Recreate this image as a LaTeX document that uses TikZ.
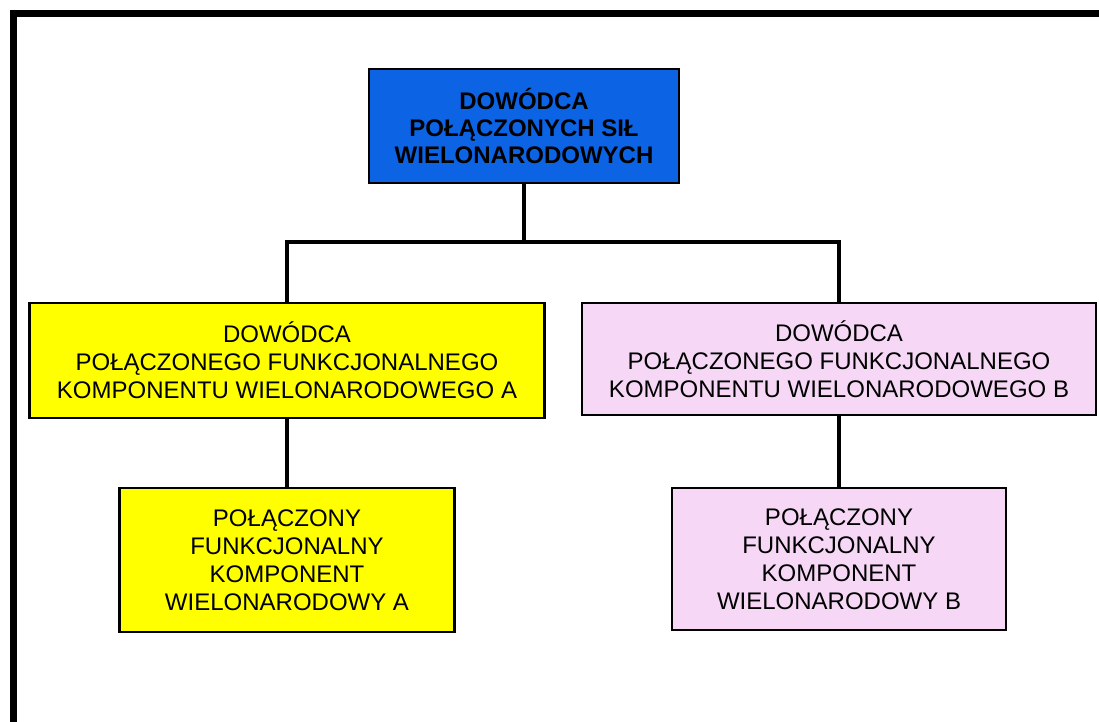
\documentclass[tikz,border=0pt]{standalone}
\usepackage{fontspec}
\setmainfont{Liberation Sans}
\definecolor{topblue}{RGB}{12,100,228}
\definecolor{boxyellow}{RGB}{255,255,0}
\definecolor{boxpink}{RGB}{246,216,246}
\tikzset{
  orgbox/.style={draw=black, line width=2.8pt, align=center, inner sep=0pt,
    font=\fontsize{24}{28}\selectfont},
  link/.style={draw=black, line width=3.5pt},
}
\begin{document}
\begin{tikzpicture}[x=1pt,y=-1pt]
\useasboundingbox (0,0) rectangle (1099,721);
\draw[line width=7pt] (13.5,13.5) rectangle (1120,740);
\node[orgbox, fill=topblue, minimum width=310pt, minimum height=114pt,
  font=\fontsize{24}{27}\selectfont\bfseries] (top) at (524,126)
  {DOWÓDCA\\POŁĄCZONYCH SIŁ\\WIELONARODOWYCH};
\node[orgbox, fill=boxyellow, minimum width=515pt, minimum height=115pt] (a1) at (287,360.5)
  {DOWÓDCA\\POŁĄCZONEGO FUNKCJONALNEGO\\KOMPONENTU WIELONARODOWEGO A};
\node[orgbox, fill=boxpink, minimum width=514pt, minimum height=112pt] (b1) at (839,359)
  {DOWÓDCA\\POŁĄCZONEGO FUNKCJONALNEGO\\KOMPONENTU WIELONARODOWEGO B};
\node[orgbox, fill=boxyellow, minimum width=335pt, minimum height=144pt] (a2) at (287,560)
  {POŁĄCZONY\\FUNKCJONALNY\\KOMPONENT\\WIELONARODOWY A};
\node[orgbox, fill=boxpink, minimum width=334pt, minimum height=142pt] (b2) at (839,559)
  {POŁĄCZONY\\FUNKCJONALNY\\KOMPONENT\\WIELONARODOWY B};
\coordinate (bar) at (524,242);
\draw[link] (top.south) -- (top.south |- bar);
\draw[link] (a1.north) -- (a1.north |- bar) -- (b1.north |- bar) -- (b1.north);
\draw[link] (a1.south) -- (a2.north);
\draw[link] (b1.south) -- (b2.north);
\end{tikzpicture}
\end{document}
